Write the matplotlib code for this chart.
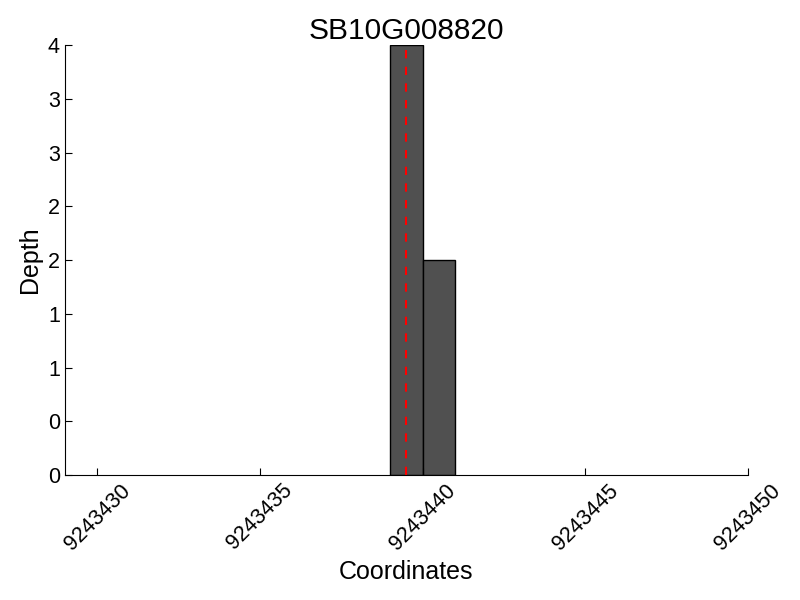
import matplotlib
matplotlib.use('Agg')
import matplotlib.pyplot as plt
from matplotlib.ticker import FormatStrFormatter, MultipleLocator

plt.rcParams['font.family'] = ['Liberation Sans', 'DejaVu Sans']

gene = 'SB10G008820'
positions = [9243439, 9243440]
depths = [4, 2]
snp_pos = 9243439.5
x_ticks = [9243430, 9243435, 9243440, 9243445, 9243450]

fig = plt.figure(figsize=(8, 6), dpi=100)
ax = fig.add_axes([0.081, 0.208, 0.854, 0.717])

ax.bar(positions, depths, width=1, align='edge', color='#505050', edgecolor='black', linewidth=1)
ax.axvline(snp_pos, color='red', linestyle='--', linewidth=1.5, dashes=(4, 4))

ax.set_xlim(9243429, 9243450)
ax.set_ylim(0, 4)
ax.set_xticks(x_ticks)
ax.xaxis.set_major_formatter(FormatStrFormatter('%d'))
ax.yaxis.set_major_locator(MultipleLocator(0.5))
ax.yaxis.set_major_formatter(FormatStrFormatter('%d'))
plt.setp(ax.get_xticklabels(), rotation=45, ha='center')

ax.spines['top'].set_visible(False)
ax.spines['right'].set_visible(False)
ax.tick_params(direction='in', labelsize=15.5, length=5)

ax.set_title(gene, fontsize=21.5, pad=2)
ax.set_xlabel('Coordinates', fontsize=18)
ax.set_ylabel('Depth', fontsize=18)

fig.savefig('out.png', dpi=100)
